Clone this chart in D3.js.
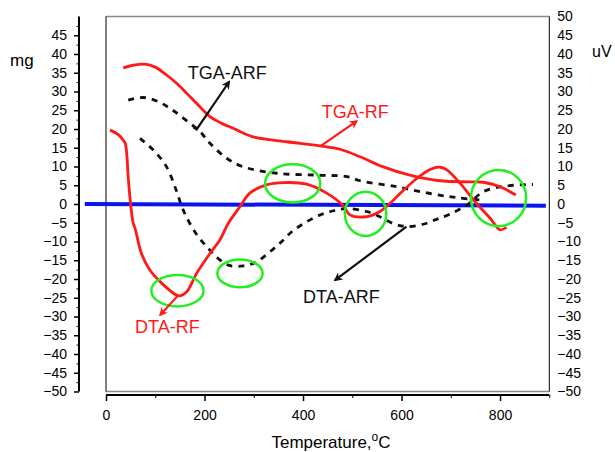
<!DOCTYPE html>
<html>
<head>
<meta charset="utf-8">
<script src="https://cdn.jsdelivr.net/npm/d3@7"></script>
<style>
  body { margin: 0; background: #fff; }
  svg { font-family: "Liberation Sans", Arial, sans-serif; }
</style>
</head>
<body>
<svg width="615" height="452"></svg>
<script>
// temperature (C) and signal values
var tgaRfT = [35, 55, 79, 100, 123, 145, 164, 190, 211, 235, 258, 299, 367, 434, 475, 516, 563, 617, 678, 740, 766, 800, 832];
var tgaRfV = [36.3, 37.0, 37.3, 36.5, 34.4, 32.0, 29.5, 26.0, 23.3, 21.5, 20.2, 17.9, 16.6, 15.5, 14.6, 12.6, 9.9, 7.7, 6.2, 5.9, 5.8, 4.6, 2.4];

var tgaArfT = [45, 76, 106, 130, 157, 191, 211, 245, 279, 347, 428, 489, 516, 590, 658, 712, 765];
var tgaArfV = [27.7, 28.4, 27.3, 25.5, 22.9, 19.3, 16.2, 12.2, 9.9, 8.2, 7.7, 7.3, 6.2, 4.6, 2.8, 1.7, 1.0];

var dtaRfT = [8, 25, 35, 39, 42, 45, 50, 55, 59, 72, 89, 113, 143, 150, 164, 184, 211, 231, 248, 272, 292, 326, 360, 407, 448, 482, 495, 529, 556, 577, 597, 631, 658, 678, 692, 719, 752, 780, 800, 813];
var dtaRfV = [19.7, 18.5, 17, 16.2, 13.5, 7.3, 0, -5, -6.5, -13.2, -17.6, -21.1, -24.3, -24.5, -23.4, -18.5, -13.2, -9.6, -5.2, -0.7, 2.9, 5.1, 5.7, 5.3, 2.9, -0.5, -2.9, -3.4, -2, 0.2, 2.8, 6.8, 9.2, 9.8, 9.1, 5.5, 0.2, -3.8, -6.9, -6.2];

var dtaArfT = [69, 96, 123, 143, 154, 167, 185, 206, 225, 248, 279, 306, 333, 357, 377, 404, 435, 462, 489, 529, 556, 583, 610, 644, 671, 698, 736, 766, 813, 867];
var dtaArfV = [17.5, 14.4, 9.9, 3.5, -0.7, -4.4, -8.3, -11.6, -14.2, -16.3, -16.5, -15.4, -12.7, -10, -7.4, -5, -2.9, -1.8, -1.2, -2, -3.4, -5.2, -6, -5.4, -4.1, -2.7, 0, 3.3, 4.8, 5.2];

var baseT = [-43, 893];
var baseV = [0, -0.45];

// green circles: centre (T, v) and radii in data units
var ringT = [145, 272, 379, 527, 797];
var ringV = [-23.1, -18.5, 5.5, -2.6, 1.6];
var ringRT = [53, 46, 56, 42, 56];
var ringRV = [4.2, 3.7, 5.1, 5.9, 7.5];

// labels and arrows
var labels = ["TGA-ARF", "TGA-RF", "DTA-RF", "DTA-ARF"];
var labelColors = ["#111", "#ff1a1a", "#ff1a1a", "#111"];
var labelT = [166, 438, 59, 400];
var labelV = [33.3, 22.9, -34.5, -26.5];
var arrowT = [[177, 184, 250], [434, 509], [147, 110], [610, 465]];
var arrowV = [[20.5, 19.9, 32.6], [15.3, 22.1], [-24.3, -29.6], [-6.05, -20.3]];

var leftTicks = d3.range(-50, 50, 5);
var rightTicks = d3.range(-50, 55, 5);
var xTicks = [0, 200, 400, 600, 800];

var svg = d3.select("svg");
var x = d3.scaleLinear().domain([0, 900]).range([106, 549.3]);
var y = d3.scaleLinear().domain([-50, 50]).range([391.5, 16.5]);

function zip(ts, vs) { return ts.map(function(t, i) { return [t, vs[i]]; }); }

var defs = svg.append("defs");
[["arrowBlack", "#111"], ["arrowRed", "#ff1a1a"]].forEach(function(m) {
  defs.append("marker")
      .attr("id", m[0])
      .attr("viewBox", "0 0 10 10")
      .attr("refX", 8).attr("refY", 5)
      .attr("markerWidth", 4).attr("markerHeight", 4)
      .attr("orient", "auto")
    .append("path")
      .attr("d", "M0,0L10,5L0,10L3,5Z")
      .attr("fill", m[1]);
});

// frame
svg.append("line").attr("x1", x(0)).attr("x2", x(900)).attr("y1", y(50)).attr("y2", y(50))
    .attr("stroke", "#888").attr("stroke-width", 1.5);
svg.append("line").attr("x1", x(0)).attr("x2", x(900)).attr("y1", y(-50)).attr("y2", y(-50))
    .attr("stroke", "#888").attr("stroke-width", 1.5);
svg.append("line").attr("x1", x(0)).attr("x2", x(0)).attr("y1", y(50)).attr("y2", y(-50))
    .attr("stroke", "#000").attr("stroke-width", 1);
svg.append("line").attr("x1", x(900)).attr("x2", x(900)).attr("y1", y(50)).attr("y2", y(-50))
    .attr("stroke", "#000").attr("stroke-width", 1);

// left axis (mg)
var yAxis = svg.append("g").attr("transform", "translate(79,0)")
    .call(d3.axisLeft(y).tickValues(leftTicks).tickSize(5).tickPadding(7));
svg.append("g").attr("transform", "translate(79,0)")
    .call(d3.axisLeft(y).tickValues(d3.range(-47.5, 50, 5)).tickSize(2.5).tickFormat(""))
    .select(".domain").remove();
yAxis.select(".domain").attr("d", "M0," + y(50) + "V" + y(-50)).attr("stroke-width", 2);
yAxis.selectAll(".tick line").attr("stroke-width", 1.5);
yAxis.selectAll("text").attr("font-size", 14).attr("fill", "#000").attr("font-family", "Liberation Sans, Arial");

// right labels (uV)
svg.append("g").attr("transform", "translate(549.3,0)")
    .call(d3.axisRight(y).tickValues(rightTicks).tickSize(0).tickPadding(8))
  .call(function(g) {
    g.select(".domain").remove();
    g.selectAll("text").attr("font-size", 14).attr("fill", "#000").attr("font-family", "Liberation Sans, Arial");
  });

// bottom axis
var xAxis = svg.append("g").attr("transform", "translate(0,395)")
    .call(d3.axisBottom(x).tickValues(xTicks).tickSize(6).tickPadding(9));
svg.append("g").attr("transform", "translate(0,395)")
    .call(d3.axisBottom(x).tickValues([100, 300, 500, 700, 900]).tickSize(3).tickFormat(""))
    .select(".domain").remove();
xAxis.select(".domain").attr("d", "M" + x(0) + ",0H" + x(900)).attr("stroke-width", 2);
xAxis.selectAll(".tick line").attr("stroke-width", 1.5);
xAxis.selectAll("text").attr("font-size", 14).attr("fill", "#000").attr("font-family", "Liberation Sans, Arial");

svg.append("text").attr("x", 10).attr("y", 66).attr("font-size", 17).text("mg");
svg.append("text").attr("x", 592).attr("y", 57).attr("font-size", 16).text("uV");
var title = svg.append("text").attr("x", 331).attr("y", 448).attr("text-anchor", "middle")
    .attr("font-size", 17).text("Temperature,");
title.append("tspan").attr("dy", -7).attr("font-size", 12).text("o");
title.append("tspan").attr("dy", 7).text("C");

var line = d3.line()
    .x(function(d) { return x(d[0]); })
    .y(function(d) { return y(d[1]); })
    .curve(d3.curveCatmullRom);

// zero line
svg.append("path").datum(zip(baseT, baseV))
    .attr("d", d3.line().x(function(d) { return x(d[0]); }).y(function(d) { return y(d[1]); }))
    .attr("stroke", "#0a14f0").attr("stroke-width", 4).attr("fill", "none");

svg.append("path").datum(zip(tgaArfT, tgaArfV)).attr("d", line)
    .attr("fill", "none").attr("stroke", "#111").attr("stroke-width", 2.8).attr("stroke-dasharray", "6,6");
svg.append("path").datum(zip(dtaArfT, dtaArfV)).attr("d", line)
    .attr("fill", "none").attr("stroke", "#111").attr("stroke-width", 2.8).attr("stroke-dasharray", "6,6");
svg.append("path").datum(zip(tgaRfT, tgaRfV)).attr("d", line)
    .attr("fill", "none").attr("stroke", "#ff1a1a").attr("stroke-width", 2.8);
svg.append("path").datum(zip(dtaRfT, dtaRfV)).attr("d", line)
    .attr("fill", "none").attr("stroke", "#ff1a1a").attr("stroke-width", 2.8);

// green rings
svg.selectAll(".ring").data(ringT).enter().append("ellipse")
    .attr("class", "ring")
    .attr("cx", function(d) { return x(d); })
    .attr("cy", function(d, i) { return y(ringV[i]); })
    .attr("rx", function(d, i) { return x(ringRT[i]) - x(0); })
    .attr("ry", function(d, i) { return y(0) - y(ringRV[i]); })
    .attr("fill", "none").attr("stroke", "#22ee22").attr("stroke-width", 2.5);

// arrows and labels
arrowT.forEach(function(ts, i) {
  svg.append("path").datum(zip(ts, arrowV[i]))
      .attr("d", d3.line().x(function(d) { return x(d[0]); }).y(function(d) { return y(d[1]); }))
      .attr("fill", "none").attr("stroke", labelColors[i]).attr("stroke-width", 2.2)
      .attr("marker-end", labelColors[i] === "#111" ? "url(#arrowBlack)" : "url(#arrowRed)");
});
svg.selectAll(".lab").data(labels).enter().append("text")
    .attr("class", "lab")
    .attr("x", function(d, i) { return x(labelT[i]); })
    .attr("y", function(d, i) { return y(labelV[i]); })
    .attr("font-size", 18)
    .attr("fill", function(d, i) { return labelColors[i]; })
    .text(function(d) { return d; });
</script>
</body>
</html>
